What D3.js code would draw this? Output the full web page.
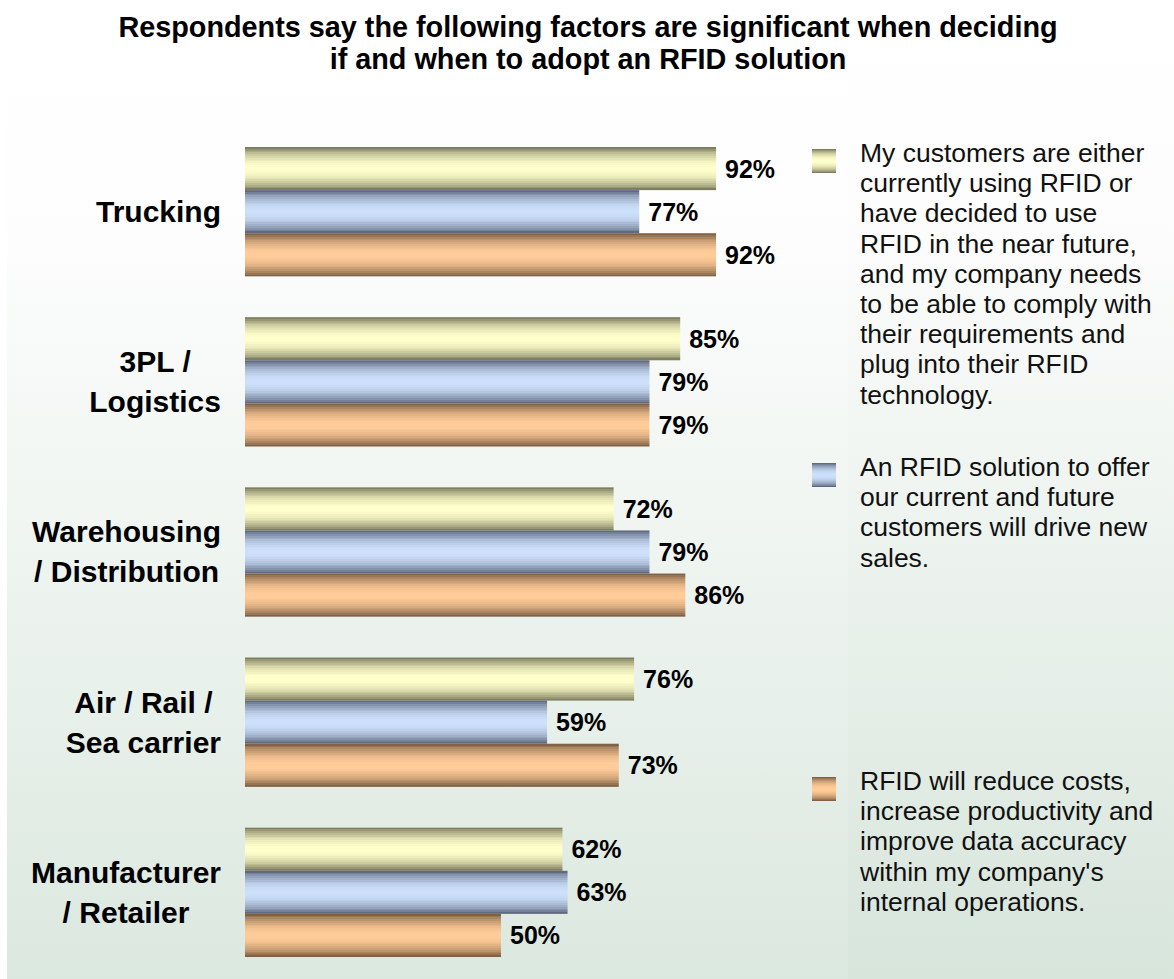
<!DOCTYPE html>
<html>
<head>
<meta charset="utf-8">
<script src="https://cdn.jsdelivr.net/npm/d3@7"></script>
<style>
  body { margin: 0; background: #ffffff; }
  svg { display: block; font-family: "Liberation Sans", Arial, sans-serif; }
</style>
</head>
<body>
<div id="chart"></div>
<script>
// Chart data
const categories = [
    ["Trucking"],
    ["3PL /", "Logistics"],
    ["Warehousing", "/ Distribution"],
    ["Air / Rail /", "Sea carrier"],
    ["Manufacturer", "/ Retailer"]
];
const seriesKeys = ["comply", "sales", "costs"];
const complyValues = [92, 85, 72, 76, 62];
const salesValues = [77, 79, 79, 59, 63];
const costsValues = [92, 79, 86, 73, 50];
const legendLines = [
    ["My customers are either", "currently using RFID or", "have decided to use",
     "RFID in the near future,", "and my company needs", "to be able to comply with",
     "their requirements and", "plug into their RFID", "technology."],
    ["An RFID solution to offer", "our current and future", "customers will drive new", "sales."],
    ["RFID will reduce costs,", "increase productivity and", "improve data accuracy",
     "within my company's", "internal operations."]
];
const titleLines = [
    "Respondents say the following factors are significant when deciding",
    "if and when to adopt an RFID solution"
];

const W = 1174, H = 979;

const svg = d3.select("#chart")
    .append("svg")
    .attr("width", W)
    .attr("height", H);

const defs = svg.append("defs");

// background gradients
const bgGrad = defs.append("linearGradient")
    .attr("id", "bg").attr("x1", 0).attr("y1", 0).attr("x2", 0).attr("y2", 1);
bgGrad.append("stop").attr("offset", 0).attr("stop-color", "#ffffff");
bgGrad.append("stop").attr("offset", 0.25).attr("stop-color", "#fcfdfc");
bgGrad.append("stop").attr("offset", 1).attr("stop-color", "#dbe8df");

const legGrad = defs.append("linearGradient")
    .attr("id", "legbg").attr("x1", 0).attr("y1", 0).attr("x2", 0).attr("y2", 1);
legGrad.append("stop").attr("offset", 0).attr("stop-color", "#ffffff");
legGrad.append("stop").attr("offset", 0.25).attr("stop-color", "#fbfcfb");
legGrad.append("stop").attr("offset", 1).attr("stop-color", "#d7e5db");

svg.append("rect")
    .attr("x", 7).attr("y", 0).attr("width", W - 7).attr("height", H)
    .attr("fill", "url(#bg)");
svg.append("rect")
    .attr("x", 848).attr("y", 0).attr("width", W - 848).attr("height", H)
    .attr("fill", "url(#legbg)");

// banded bar gradients: dark edges, light middle
const palette = {
    comply: { dark: "#6c6c50", light: "#ffffcc" },
    sales: { dark: "#505a70", light: "#cde0fb" },
    costs: { dark: "#6d5138", light: "#ffcc99" }
};
const bands = 24;
seriesKeys.forEach(key => {
    const g = defs.append("linearGradient")
        .attr("id", "grad-" + key)
        .attr("x1", 0).attr("y1", 0).attr("x2", 0).attr("y2", 1);
    const interp = d3.interpolateRgb(palette[key].dark, palette[key].light);
    for (let i = 0; i < bands; i++) {
        const t = (i + 0.5) / bands;
        const v = Math.pow(Math.sin(Math.PI * t), 0.75);
        const c = interp(v);
        g.append("stop").attr("offset", i / bands).attr("stop-color", c);
        g.append("stop").attr("offset", (i + 1) / bands).attr("stop-color", c);
    }
});

// title
svg.append("g")
    .selectAll("text")
    .data(titleLines)
    .enter().append("text")
    .attr("x", 588)
    .attr("y", (d, i) => 37 + i * 32)
    .attr("text-anchor", "middle")
    .style("font-size", "28.8px")
    .style("font-weight", "bold")
    .text(d => d);

// scales
const y = d3.scaleBand()
    .domain(d3.range(categories.length))
    .range([147, 957])
    .paddingInner(0.24)
    .paddingOuter(0);

const ySub = d3.scaleBand()
    .domain(seriesKeys)
    .range([0, y.bandwidth()]);

const x = d3.scaleLinear()
    .domain([0, 100])
    .range([245, 757]);

const data = categories.map((c, i) => ({
    index: i,
    lines: c,
    comply: complyValues[i],
    sales: salesValues[i],
    costs: costsValues[i]
}));

// bars
const groups = svg.selectAll(".group")
    .data(data)
    .enter().append("g")
    .attr("class", "group")
    .attr("transform", d => "translate(0," + y(d.index) + ")");

groups.selectAll("rect")
    .data(d => seriesKeys.map(k => ({ key: k, value: d[k] })))
    .enter().append("rect")
    .attr("x", x(0))
    .attr("y", d => ySub(d.key))
    .attr("width", d => x(d.value) - x(0))
    .attr("height", ySub.bandwidth())
    .attr("fill", d => "url(#grad-" + d.key + ")");

groups.selectAll(".val")
    .data(d => seriesKeys.map(k => ({ key: k, value: d[k] })))
    .enter().append("text")
    .attr("class", "val")
    .attr("x", d => x(d.value) + 9)
    .attr("y", d => ySub(d.key) + ySub.bandwidth() / 2)
    .attr("dy", "0.36em")
    .style("font-size", "25px")
    .style("font-weight", "bold")
    .text(d => d.value + "%");

// category labels: block right aligned, lines centred within block
const catFont = 30, catLine = 40, catCap = 21;
groups.each(function (d) {
    const g = d3.select(this);
    const texts = g.selectAll(".cat")
        .data(d.lines)
        .enter().append("text")
        .attr("class", "cat")
        .style("font-size", catFont + "px")
        .style("font-weight", "bold")
        .attr("text-anchor", "middle")
        .text(t => t);
    let maxW = 0;
    texts.each(function () { maxW = Math.max(maxW, this.getComputedTextLength()); });
    const cx = 221 - maxW / 2;
    const top = y.bandwidth() / 2 - (catCap + (d.lines.length - 1) * catLine) / 2;
    texts.attr("x", cx)
        .attr("y", (t, i) => top + catCap + i * catLine);
});

// legend
const legend = svg.selectAll(".legend")
    .data(seriesKeys)
    .enter().append("g")
    .attr("class", "legend")
    .attr("transform", (d, i) => "translate(812," + (162 + i * 314) + ")");

legend.append("rect")
    .attr("x", 0)
    .attr("y", -13)
    .attr("width", 24)
    .attr("height", 24)
    .attr("fill", d => "url(#grad-" + d + ")");

legend.each(function (d, i) {
    d3.select(this).selectAll("text")
        .data(legendLines[i])
        .enter().append("text")
        .attr("x", 48)
        .attr("y", (t, j) => j * 30.2)
        .style("font-size", "26.5px")
        .style("fill", "#111")
        .text(t => t);
});
</script>
</body>
</html>
